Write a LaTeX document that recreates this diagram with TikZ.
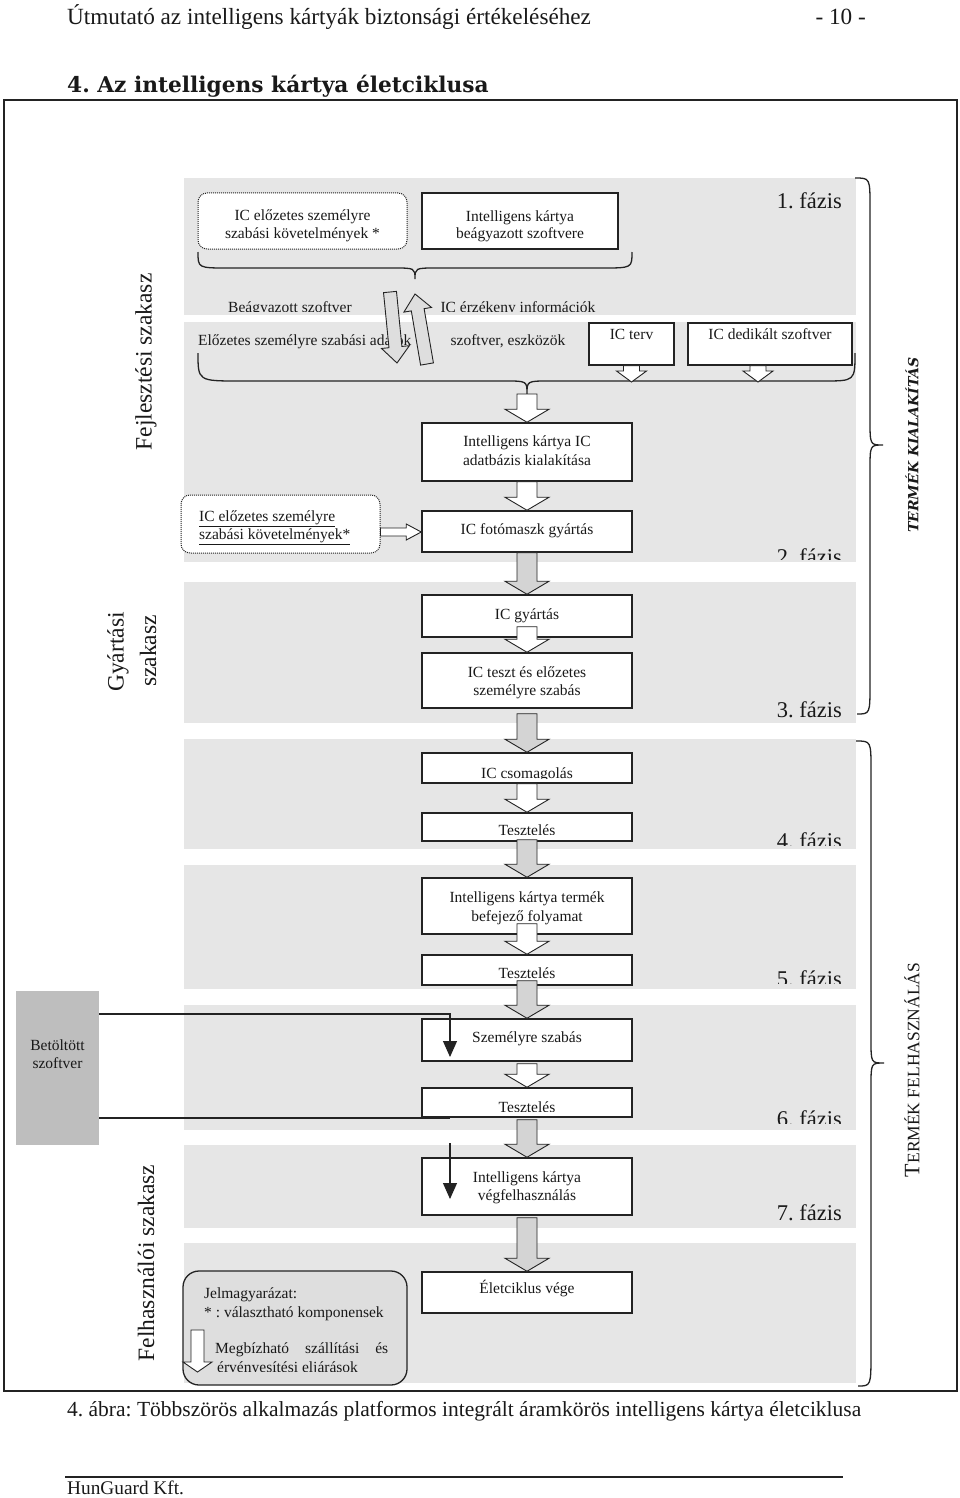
\documentclass[tikz,border=0pt]{standalone}
\usepackage{fontspec}
\setmainfont{Liberation Serif}
\newfontfamily\slabfont{DejaVu Serif}
\usetikzlibrary{calc,arrows.meta}
\definecolor{panelgray}{RGB}{230,230,230}
\definecolor{boxline}{RGB}{35,35,35}
\definecolor{textcol}{RGB}{25,25,25}
\definecolor{arrgray}{RGB}{212,212,212}
\definecolor{tiltgray}{RGB}{222,222,222}
\definecolor{darkbox}{RGB}{190,190,190}
\definecolor{legendfill}{RGB}{222,222,222}
\frenchspacing
% block arrow: fill, start, end, half shaft, half head, head length
\newcommand\barr[6]{%
  \coordinate (bah) at ($(#3)!#6!(#2)$);
  \draw[arrline,fill=#1] ($(#2)!#4!90:(#3)$) -- ($(bah)!#4!90:(#3)$) -- ($(bah)!#5!90:(#3)$) -- (#3) -- ($(bah)!#5!-90:(#3)$) -- ($(bah)!#4!-90:(#3)$) -- ($(#2)!#4!-90:(#3)$) -- cycle;}
\begin{document}
\begin{tikzpicture}[x=1pt,y=-1pt,
  boxs/.style={draw=boxline,line width=1.5pt,fill=white,inner sep=0pt},
  dotbox/.style={draw=boxline,densely dotted,line width=1pt,rounded corners=9pt,fill=white,inner sep=0pt},
  txt/.style={font=\fontsize{15.5}{17}\selectfont,inner sep=0pt,text=textcol,anchor=base},
  phasetxt/.style={font=\fontsize{22.5}{24}\selectfont,inner sep=0pt,text=textcol,anchor=base east},
  sidetxt/.style={font=\fontsize{23.5}{25}\selectfont,inner sep=0pt,text=textcol,rotate=90},
  arrline/.style={draw=boxline,line width=0.9pt,line join=miter},
  bracel/.style={draw=boxline,line width=1.3pt},
  thinarr/.style={draw=boxline,line width=1.1pt,-{Triangle[width=14pt,length=16pt]}},
  pagetxt/.style={text=textcol,inner sep=0pt}
]
\useasboundingbox (0,0) rectangle (960,1498);
\fill[white] (0,0) rectangle (960,1498);

% page texts
\node[pagetxt,font=\fontsize{23.2}{25}\selectfont,anchor=base west] (hdr) at (67,25) {Útmutató az intelligens kártyák biztonsági értékeléséhez};
\node[pagetxt,font=\fontsize{23.2}{25}\selectfont,anchor=base east] (pgno) at (866,25) {- 10 -};
\node[pagetxt,font=\slabfont\bfseries\fontsize{21.7}{24}\selectfont,anchor=base west] (title) at (67,93) {4. Az intelligens kártya életciklusa};
\node[pagetxt,font=\fontsize{21.5}{24}\selectfont,anchor=base west] (caption) at (67,1416) {4. ábra: Többszörös alkalmazás platformos integrált áramkörös intelligens kártya életciklusa};
\draw[boxline,line width=1.2pt] (65,1477) -- (843,1477);
\node[pagetxt,font=\fontsize{19.3}{20}\selectfont,anchor=base west] (foot) at (67,1494) {HunGuard Kft.};

% frame
\draw[boxline,line width=1.6pt] (4,100) rectangle (957,1391);

% panels
\foreach \a/\b in {178/315,322/562,582/723,739/849,865/989,1005/1130,1145/1228,1243/1383}
  \fill[panelgray] (184,\a) rectangle (856,\b);

% side labels
\node[sidetxt] (fej) at (146,362) {Fejlesztési szakasz};
\node[sidetxt] (gy1) at (118,652) {Gyártási};
\node[sidetxt] (gy2) at (148,651) {szakasz};
\node[sidetxt] (fel) at (146,1263) {Felhasználói szakasz};
\node[pagetxt,font=\slabfont\bfseries\itshape\fontsize{14}{16}\selectfont,rotate=90] (tk) at (912,445) {TERMÉK KIALAKÍTÁS};
\node[pagetxt,rotate=90] (tf) at (912,1070) {{\fontsize{22}{22}\selectfont T}{\fontsize{17.5}{18}\selectfont ERMÉK FELHASZNÁLÁS}};

% phase labels
\node[phasetxt] (ph1) at (842,208) {1. fázis};
\begin{scope}\clip (700,520) rectangle (856,559);
\node[phasetxt] (ph2) at (842,564) {2. fázis};
\end{scope}
\node[phasetxt] (ph3) at (842,717) {3. fázis};
\begin{scope}\clip (700,800) rectangle (856,845);
\node[phasetxt] (ph4) at (842,848) {4. fázis};
\end{scope}
\begin{scope}\clip (700,940) rectangle (856,983);
\node[phasetxt] (ph5) at (842,986) {5. fázis};
\end{scope}
\begin{scope}\clip (700,1080) rectangle (856,1123);
\node[phasetxt] (ph6) at (842,1126) {6. fázis};
\end{scope}
\node[phasetxt] (ph7) at (842,1220) {7. fázis};

% boxes
\node[dotbox,minimum width=209pt,minimum height=56pt] (req1) at (302.5,221) {};
\node[boxs,minimum width=196pt,minimum height=56pt] (emb) at (520,221) {};
\node[boxs,minimum width=85pt,minimum height=42pt] (terv) at (631.5,344) {};
\node[boxs,minimum width=164pt,minimum height=42pt] (dedi) at (770,344) {};
\node[boxs,minimum width=210pt,minimum height=58pt] (adat) at (527,452) {};
\node[boxs,minimum width=210pt,minimum height=41pt] (foto) at (527,531.5) {};
\node[dotbox,minimum width=199pt,minimum height=58pt] (req2) at (280.5,524) {};
\node[boxs,minimum width=210pt,minimum height=42pt] (gyar) at (527,616) {};
\node[boxs,minimum width=210pt,minimum height=55pt] (teszt) at (527,680.5) {};
\node[boxs,minimum width=210pt,minimum height=30pt] (csom) at (527,768) {};
\node[boxs,minimum width=210pt,minimum height=28pt] (tsz4) at (527,827) {};
\node[boxs,minimum width=210pt,minimum height=56pt] (bef) at (527,906) {};
\node[boxs,minimum width=210pt,minimum height=30pt] (tsz5) at (527,970) {};
\node[boxs,minimum width=210pt,minimum height=42pt] (szem) at (527,1040) {};
\node[boxs,minimum width=210pt,minimum height=29pt] (tsz6) at (527,1102.5) {};
\node[boxs,minimum width=210pt,minimum height=57pt] (vegf) at (527,1186.5) {};
\node[boxs,minimum width=210pt,minimum height=41pt] (elet) at (527,1292.5) {};
\node[fill=darkbox,minimum width=83pt,minimum height=154pt,inner sep=0pt] (betolt) at (57.5,1068) {};
\node[draw=boxline,line width=1.3pt,rounded corners=16pt,fill=legendfill,minimum width=224pt,minimum height=114pt,inner sep=0pt] (legend) at (295,1328) {};

% box texts
\node[txt] (req1a) at (302.5,220) {IC előzetes személyre};
\node[txt] (req1b) at (302.5,238) {szabási követelmények *};
\node[txt] (emba) at (520,221) {Intelligens kártya};
\node[txt] (embb) at (520,238) {beágyazott szoftvere};
\begin{scope}\clip (184,280) rectangle (856,311.5);
\node[txt] (emsw) at (290,312) {Beágyazott szoftver};
\node[txt] (icsens) at (518,312) {IC érzékeny információk};
\end{scope}
\node[txt,anchor=base west] (pers) at (198,345) {Előzetes személyre szabási adatok};
\node[txt] (tools) at (508,345) {szoftver, eszközök};
\node[txt] (tervt) at (631.5,339) {IC terv};
\node[txt] (dedit) at (770,339) {IC dedikált szoftver};
\node[txt] (adata) at (527,446) {Intelligens kártya IC};
\node[txt] (adatb) at (527,465) {adatbázis kialakítása};
\node[txt] (fotot) at (527,534) {IC fotómaszk gyártás};
\node[txt,anchor=base west] (req2a) at (199,521) {\underline{IC előzetes személyre}};
\node[txt,anchor=base west] (req2b) at (199,539) {\underline{szabási követelmények*}};
\node[txt] (gyart) at (527,619) {IC gyártás};
\node[txt] (teszta) at (527,677) {IC teszt és előzetes};
\node[txt] (tesztb) at (527,695) {személyre szabás};
\begin{scope}\clip (422,750) rectangle (632,778);
\node[txt] (csomt) at (527,778) {IC csomagolás};
\end{scope}
\begin{scope}\clip (422,810) rectangle (632,834);
\node[txt] (tsz4t) at (527,835) {Tesztelés};
\end{scope}
\node[txt] (befa) at (527,902) {Intelligens kártya termék};
\node[txt] (befb) at (527,921) {befejező folyamat};
\node[txt] (tsz5t) at (527,978) {Tesztelés};
\node[txt] (szemt) at (527,1042) {Személyre szabás};
\begin{scope}\clip (422,1085) rectangle (632,1111);
\node[txt] (tsz6t) at (527,1112) {Tesztelés};
\end{scope}
\node[txt] (vegfa) at (527,1182) {Intelligens kártya};
\node[txt] (vegfb) at (527,1200) {végfelhasználás};
\node[txt] (elett) at (527,1293) {Életciklus vége};
\node[txt] (betolta) at (57.5,1050) {Betöltött};
\node[txt] (betoltb) at (57.5,1068) {szoftver};
\node[txt,anchor=base west] (lg1) at (204,1298) {Jelmagyarázat:};
\node[txt,anchor=base west] (lg2) at (204,1317) {* : választható komponensek};
\begin{scope}\clip (184,1330) rectangle (400,1371);
\node[txt,anchor=base west] (lg3) at (215,1353) {\makebox[173pt][s]{Megbízható szállítási és}};
\node[txt,anchor=base west] (lg4) at (217,1372) {érvényesítési eljárások};
\end{scope}

% braces
\draw[bracel] (198,252) .. controls (198,268) .. (228,268) -- (393,268) .. controls (415,268) .. (415,279) .. controls (415,268) .. (437,268) -- (602,268) .. controls (632,268) .. (632,252);
\draw[bracel] (198,353) .. controls (198,381) .. (240,381) -- (505,381) .. controls (527,381) .. (527,394) .. controls (527,381) .. (549,381) -- (823,381) .. controls (855,381) .. (855,353);
\draw[bracel] (855,178) .. controls (870,178) .. (870,207) -- (870,420) .. controls (870,445) .. (883,445) .. controls (870,445) .. (870,470) -- (870,684) .. controls (870,714) .. (857,714);
\draw[bracel] (856,741) .. controls (871,741) .. (871,770) -- (871,1040) .. controls (871,1063) .. (884,1063) .. controls (871,1063) .. (871,1086) -- (871,1352) .. controls (871,1386) .. (858,1386);

% block arrows
\coordinate (btip) at (527,394);
\barr{white}{btip}{adat.north}{10pt}{22pt}{13pt}
\barr{white}{adat.south}{foto.north}{10pt}{22pt}{13pt}
\barr{arrgray}{foto.south}{gyar.north}{10pt}{22pt}{13pt}
\coordinate (s4) at ($(gyar.south)+(0,-11)$);
\barr{white}{s4}{teszt.north}{10pt}{22pt}{13pt}
\coordinate (s5) at ($(teszt.south)+(0,5)$);
\barr{arrgray}{s5}{csom.north}{10pt}{22pt}{13pt}
\barr{white}{csom.south}{tsz4.north}{10pt}{22pt}{13pt}
\coordinate (s7) at ($(tsz4.south)+(0,-2)$);
\barr{arrgray}{s7}{bef.north}{10pt}{22pt}{13pt}
\coordinate (s8) at ($(bef.south)+(0,-11)$);
\barr{white}{s8}{tsz5.north}{10pt}{22pt}{13pt}
\coordinate (s9) at ($(tsz5.south)+(0,-5)$);
\barr{arrgray}{s9}{szem.north}{10pt}{22pt}{13pt}
\coordinate (s10) at ($(szem.south)+(0,2)$);
\barr{white}{s10}{tsz6.north}{10pt}{22pt}{13pt}
\coordinate (s11) at ($(tsz6.south)+(0,2)$);
\barr{arrgray}{s11}{vegf.north}{10pt}{22pt}{13pt}
\coordinate (s12) at ($(vegf.south)+(0,2)$);
\barr{arrgray}{s12}{elet.north}{10pt}{22pt}{13pt}
% small arrows from IC terv / dedikalt
\coordinate (tv1) at (631.5,382);
\barr{white}{terv.south}{tv1}{8pt}{15pt}{11pt}
\coordinate (dd0) at ($(dedi.south)+(-12,0)$);
\coordinate (dd1) at (758,382);
\barr{white}{dd0}{dd1}{8pt}{15pt}{11pt}
% tilted arrows
\coordinate (dn0) at (390,292);
\coordinate (dn1) at (397,363);
\barr{tiltgray}{dn0}{dn1}{6.5pt}{14pt}{16pt}
\coordinate (up0) at (427,364);
\coordinate (up1) at (415,294);
\barr{tiltgray}{up0}{up1}{6.5pt}{14pt}{16pt}
% small horizontal arrow
\coordinate (h0) at ($(req2.east)+(0,8)$);
\coordinate (h1) at (h0 -| foto.west);
\barr{white}{h0}{h1}{4pt}{8pt}{15pt}
% legend arrow
\coordinate (lga) at (197.5,1330);
\coordinate (lgb) at (197.5,1372);
\barr{white}{lga}{lgb}{6.5pt}{14.5pt}{10pt}

% thin arrows from Betoltott szoftver
\coordinate (bl1) at ($(betolt.east)+(0,-54)$);
\coordinate (k1) at (450,1057);
\draw[thinarr] (bl1) -| (k1);
\coordinate (bl2) at ($(betolt.east)+(0,50)$);
\coordinate (k2) at (450,1118);
\draw[boxline,line width=1.1pt] (bl2) -- (k2);
\coordinate (k3) at (450,1143);
\coordinate (k4) at (450,1199);
\draw[thinarr] (k3) -- (k4);
\end{tikzpicture}
\end{document}
